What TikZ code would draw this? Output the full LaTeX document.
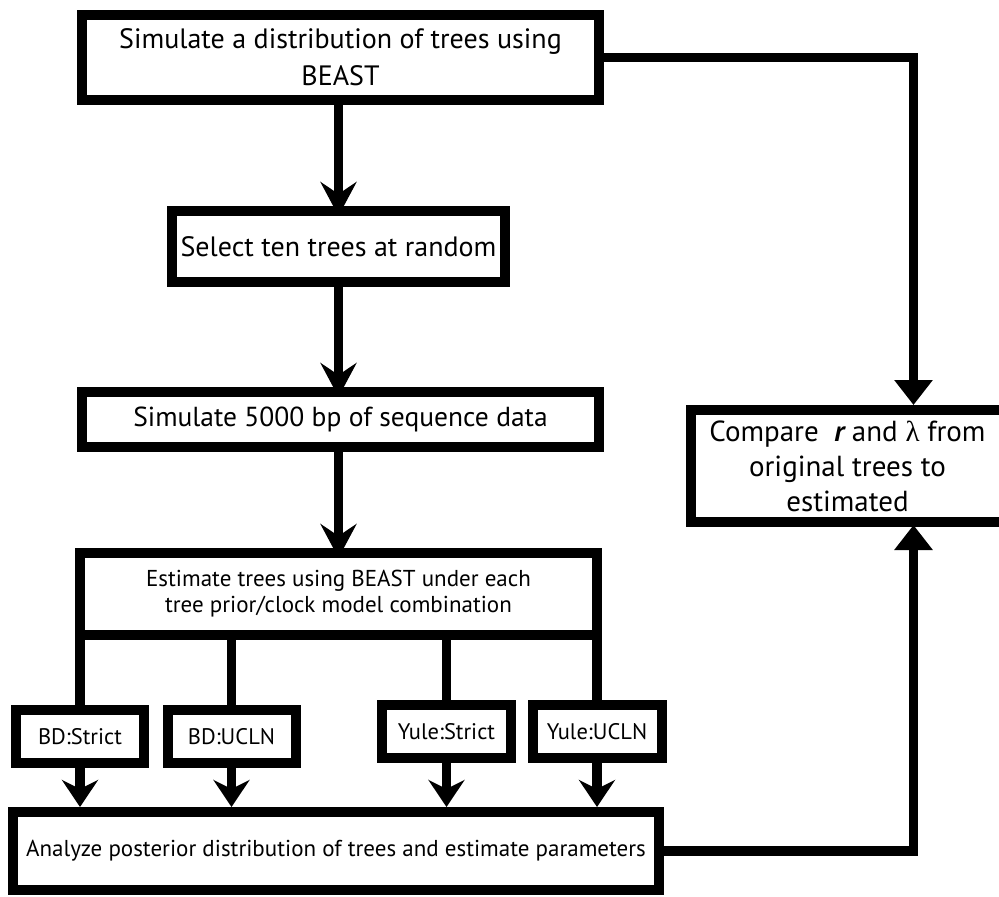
\documentclass[tikz,border=0pt]{standalone}
\usepackage{fontspec}
\setmainfont{PT Sans}
\newfontfamily\greekfont{Liberation Serif}
\usetikzlibrary{arrows.meta}
\begin{document}
\begin{tikzpicture}[x=1pt,y=-1pt,
  box/.style={draw, line width=10pt, inner sep=0pt, outer sep=0pt, align=center, fill=white},
  bigtext/.style={font=\fontsize{28}{37}\selectfont},
  smalltext/.style={font=\fontsize{23}{26}\selectfont},
  labeltext/.style={font=\fontsize{22.5}{26}\selectfont},
  link/.style={line width=9.5pt},
  downarrow/.style={link, -{Stealth[length=34pt,width=36pt,inset=12pt]}, shorten >=-5pt},
  smallarrow/.style={link, -{Stealth[length=27pt,width=36pt,inset=9pt]}, shorten >=5pt},
  uparrow/.style={link, -{Triangle[length=25pt,width=37pt]}}
]
\useasboundingbox (0,0) rectangle (999,897);
\clip (0,0) rectangle (999,897);

\node[box,bigtext,minimum width=517pt,minimum height=85pt] (top) at (340.5,57.5) {Simulate a distribution of trees using\\BEAST};
\node[box,bigtext,minimum width=333pt,minimum height=71pt] (sel) at (338.5,246.5) {Select ten trees at random};
\node[box,font=\fontsize{27.5}{37}\selectfont,minimum width=517pt,minimum height=55pt] (sim) at (340.5,419.5) {Simulate 5000 bp of sequence data};
\node[box,smalltext,minimum width=517pt,minimum height=82pt] (est) at (338.5,594) {\raisebox{3pt}{\begin{tabular}{@{}c@{}}Estimate trees using BEAST under each\\tree prior/clock model combination\end{tabular}}};

\node[box,labeltext,minimum width=128pt,minimum height=53pt] (bds) at (80,736.5) {BD:Strict};
\node[box,labeltext,minimum width=128pt,minimum height=53pt] (bdu) at (231.5,736.5) {BD:UCLN};
\node[box,labeltext,minimum width=129pt,minimum height=53pt] (yls) at (446.5,731.5) {Yule:Strict};
\node[box,labeltext,minimum width=129pt,minimum height=53pt] (ylu) at (597,731.5) {Yule:UCLN};

\node[box,smalltext,minimum width=646pt,minimum height=78pt] (ana) at (336,851) {\raisebox{5pt}{Analyze posterior distribution of trees and estimate parameters}};

\node[box,minimum width=313pt,minimum height=112pt,font=\fontsize{29}{35}\selectfont] (cmp) at (847.5,466) {Compare\ \ {\bfseries\itshape r} and {\greekfont λ} from\\original trees to\\estimated};

\coordinate (fb) at (913.5,0);

% main chain
\draw[downarrow] (top.south -| sel.north) -- (sel.north);
\draw[downarrow] (sel.south) -- (sel.south |- sim.north);
\draw[downarrow] (sel.south |- sim.south) -- (sel.south |- est.north);

% branches
\draw[link] (est.south west) -- (bds.north);
\draw[link] (bdu.north |- est.south) -- (bdu.north);
\draw[link] (yls.north |- est.south) -- (yls.north);
\draw[link] (est.south east) -- (ylu.north);

% into analysis box
\draw[smallarrow] (bds.south) -- (bds.south |- ana.north);
\draw[smallarrow] (bdu.south) -- (bdu.south |- ana.north);
\draw[smallarrow] (yls.south) -- (yls.south |- ana.north);
\draw[smallarrow] (ylu.south) -- (ylu.south |- ana.north);

% feedback into compare
\draw[uparrow, shorten >=5pt] (top.east) -| (fb |- cmp.north);
\draw[uparrow, shorten >=3pt] (ana.east) -| (fb |- cmp.south);
\end{tikzpicture}
\end{document}
